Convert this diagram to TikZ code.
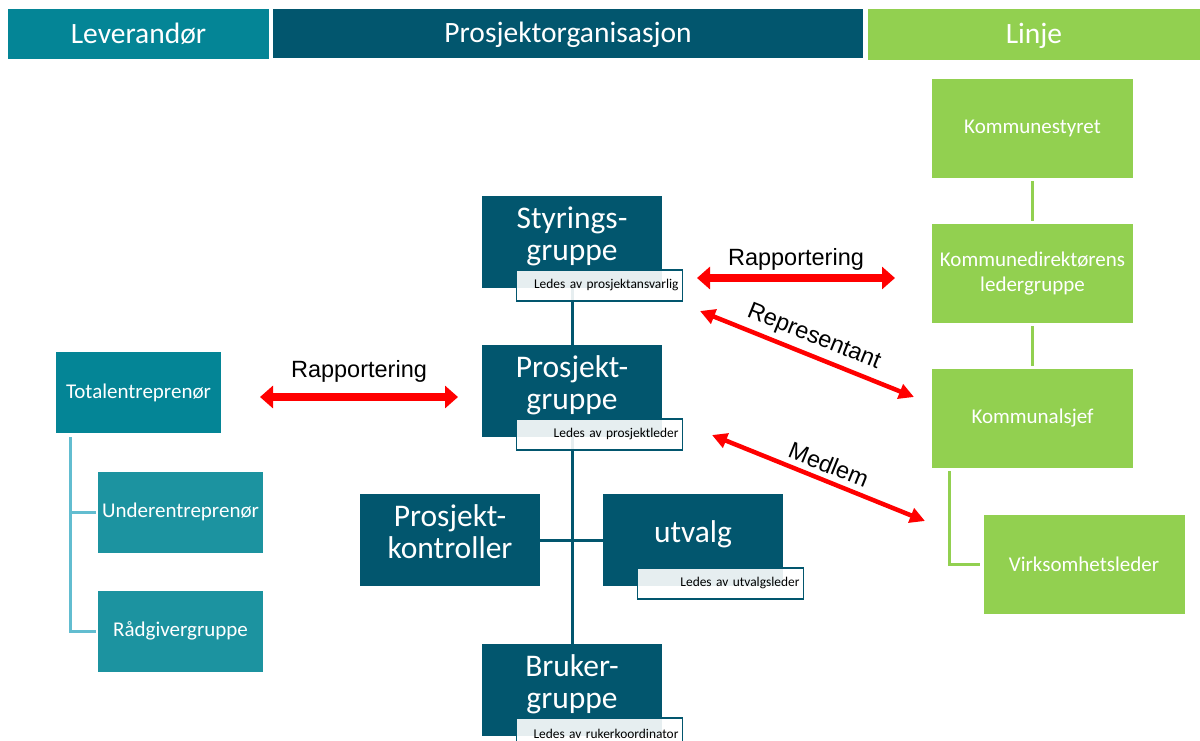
\documentclass[tikz,border=0pt]{standalone}
\usepackage{fontspec}
\setmainfont{Carlito}
\newfontfamily\arialfont{Liberation Sans}
\usetikzlibrary{positioning, arrows.meta, backgrounds}

\definecolor{levcol}{HTML}{048596}
\definecolor{levlight}{HTML}{1C93A0}
\definecolor{levline}{HTML}{62BDD0}
\definecolor{orgcol}{HTML}{02566E}
\definecolor{lincol}{HTML}{92D050}
\definecolor{arrowred}{HTML}{FF0000}

\tikzset{
  header/.style={rectangle, fill=#1, inner sep=0pt, text=white,
    text height=24pt, text depth=6pt,
    font=\fontsize{29.5}{33}\selectfont},
  orgbox/.style={rectangle, fill=orgcol, inner sep=0pt, minimum width=180pt,
    minimum height=92pt, text=white, align=center, text depth=16pt,
    font=\fontsize{31.5}{32}\selectfont},
  subbox/.style={rectangle, draw=orgcol, line width=1.5pt, fill=white,
    fill opacity=0.9, text opacity=1, text=black, inner xsep=4pt,
    inner ysep=0pt, text width=158pt, minimum height=31pt, align=right,
    font=\fontsize{13.4}{15}\selectfont},
  linbox/.style={rectangle, fill=lincol, inner sep=0pt, minimum width=201pt,
    minimum height=99pt, text=white, align=center,
    font=\fontsize{21}{25}\selectfont},
  levbox/.style={rectangle, fill=#1, inner sep=0pt, minimum width=165pt,
    minimum height=81pt, text=white, align=center,
    font=\fontsize{21}{25}\selectfont},
  orgline/.style={draw=orgcol, line width=3pt},
  levconn/.style={draw=levline, line width=3pt, shorten <=4pt, shorten >=2pt},
  linconn/.style={draw=lincol, line width=3pt, shorten <=3pt, shorten >=3pt},
  bigarrow/.style={draw=arrowred, line width=8pt,
    {Triangle[length=13pt,width=22pt]}-{Triangle[length=13pt,width=22pt]}},
  thinarrow/.style={draw=arrowred, line width=4.5pt,
    {Triangle[length=15pt,width=15pt]}-{Triangle[length=15pt,width=15pt]}},
  arrowlbl/.style={font=\arialfont\fontsize{23.5}{26}\selectfont, text=black}
}

\begin{document}
\begin{tikzpicture}[x=1pt, y=-1pt]
    \useasboundingbox (0,0) rectangle (1200,740);

    % headers
    \node[header=levcol, minimum width=261pt, minimum height=50pt] (lev) at (138.5,34) {Leverandør};
    \node[header=orgcol, minimum width=590pt, minimum height=49pt] (org) at (568,33.5) {Prosjektorganisasjon};
    \node[header=lincol, minimum width=332pt, minimum height=51pt] (lin) at (1034,34.5) {Linje};

    % linje
    \node[linbox] (ks) at (1032.5,128.5) {Kommunestyret};
    \node[linbox] (kd) at (1032.5,273.5) {Kommunedirektørens\\ledergruppe};
    \node[linbox] (kj) at (1032.5,418.5) {Kommunalsjef};
    \node[linbox] (vl) at (1084,564) {Virksomhetsleder};

    % leverandør
    \node[levbox=levcol] (te) at (138.5,392.5) {Totalentreprenør};
    \node[levbox=levlight] (ue) at (180.5,512) {Underentreprenør};
    \node[levbox=levlight] (rg) at (180.5,631) {Rådgivergruppe};

    % prosjektorganisasjon
    \node[orgbox] (sg) at (572,242) {Styrings-\\gruppe};
    \node[orgbox] (pg) at (572,391) {Prosjekt-\\gruppe};
    \node[orgbox] (pk) at (450,540) {Prosjekt-\\kontroller};
    \node[orgbox] (ut) at (693,540) {utvalg};
    \node[orgbox] (bg) at (572,690) {Bruker-\\gruppe};

    \node[subbox, anchor=north east] (sg-sub) at ([xshift=21pt, yshift=19pt]sg.south east) {Ledes av prosjektansvarlig};
    \node[subbox, anchor=north east] (pg-sub) at ([xshift=21pt, yshift=19pt]pg.south east) {Ledes av prosjektleder};
    \node[subbox, anchor=north east] (ut-sub) at ([xshift=21pt, yshift=19pt]ut.south east) {Ledes av utvalgsleder};
    \node[subbox, anchor=north east] (bg-sub) at ([xshift=21pt, yshift=19pt]bg.south east) {Ledes av rukerkoordinator};

    \begin{scope}[on background layer]
        \draw[orgline] (sg.south) -- (pg.north);
        \draw[orgline] (pg.south) -- (bg.north);
        \draw[orgline] (pk.east) -- (ut.west);

        \draw[levconn] ([xshift=15pt]te.south west) |- (ue.west);
        \draw[levconn] ([xshift=15pt]te.south west) |- (rg.west);

        \draw[linconn] (ks.south) -- (kd.north);
        \draw[linconn] (kd.south) -- (kj.north);
        \draw[linconn] ([xshift=18pt]kj.south west) |- (vl.west);
    \end{scope}

    % red arrows
    \coordinate (rt-a) at (697,278);
    \coordinate (rt-b) at (895,278);
    \coordinate (rl-a) at (260,397);
    \coordinate (rl-b) at (458,397);
    \coordinate (rp-a) at (700,311);
    \coordinate (rp-b) at (914,397);
    \coordinate (md-a) at (712,435);
    \coordinate (md-b) at (925,521);

    \draw[bigarrow] (rt-a) -- node[arrowlbl, above=0pt] {Rapportering} (rt-b);
    \draw[bigarrow] (rl-a) -- node[arrowlbl, above=7pt] {Rapportering} (rl-b);
    \draw[thinarrow] (rp-a) -- node[arrowlbl, sloped, above=2pt] {Representant} (rp-b);
    \draw[thinarrow] (md-a) -- node[arrowlbl, sloped, above=2pt, pos=0.52] {Medlem} (md-b);
\end{tikzpicture}
\end{document}
